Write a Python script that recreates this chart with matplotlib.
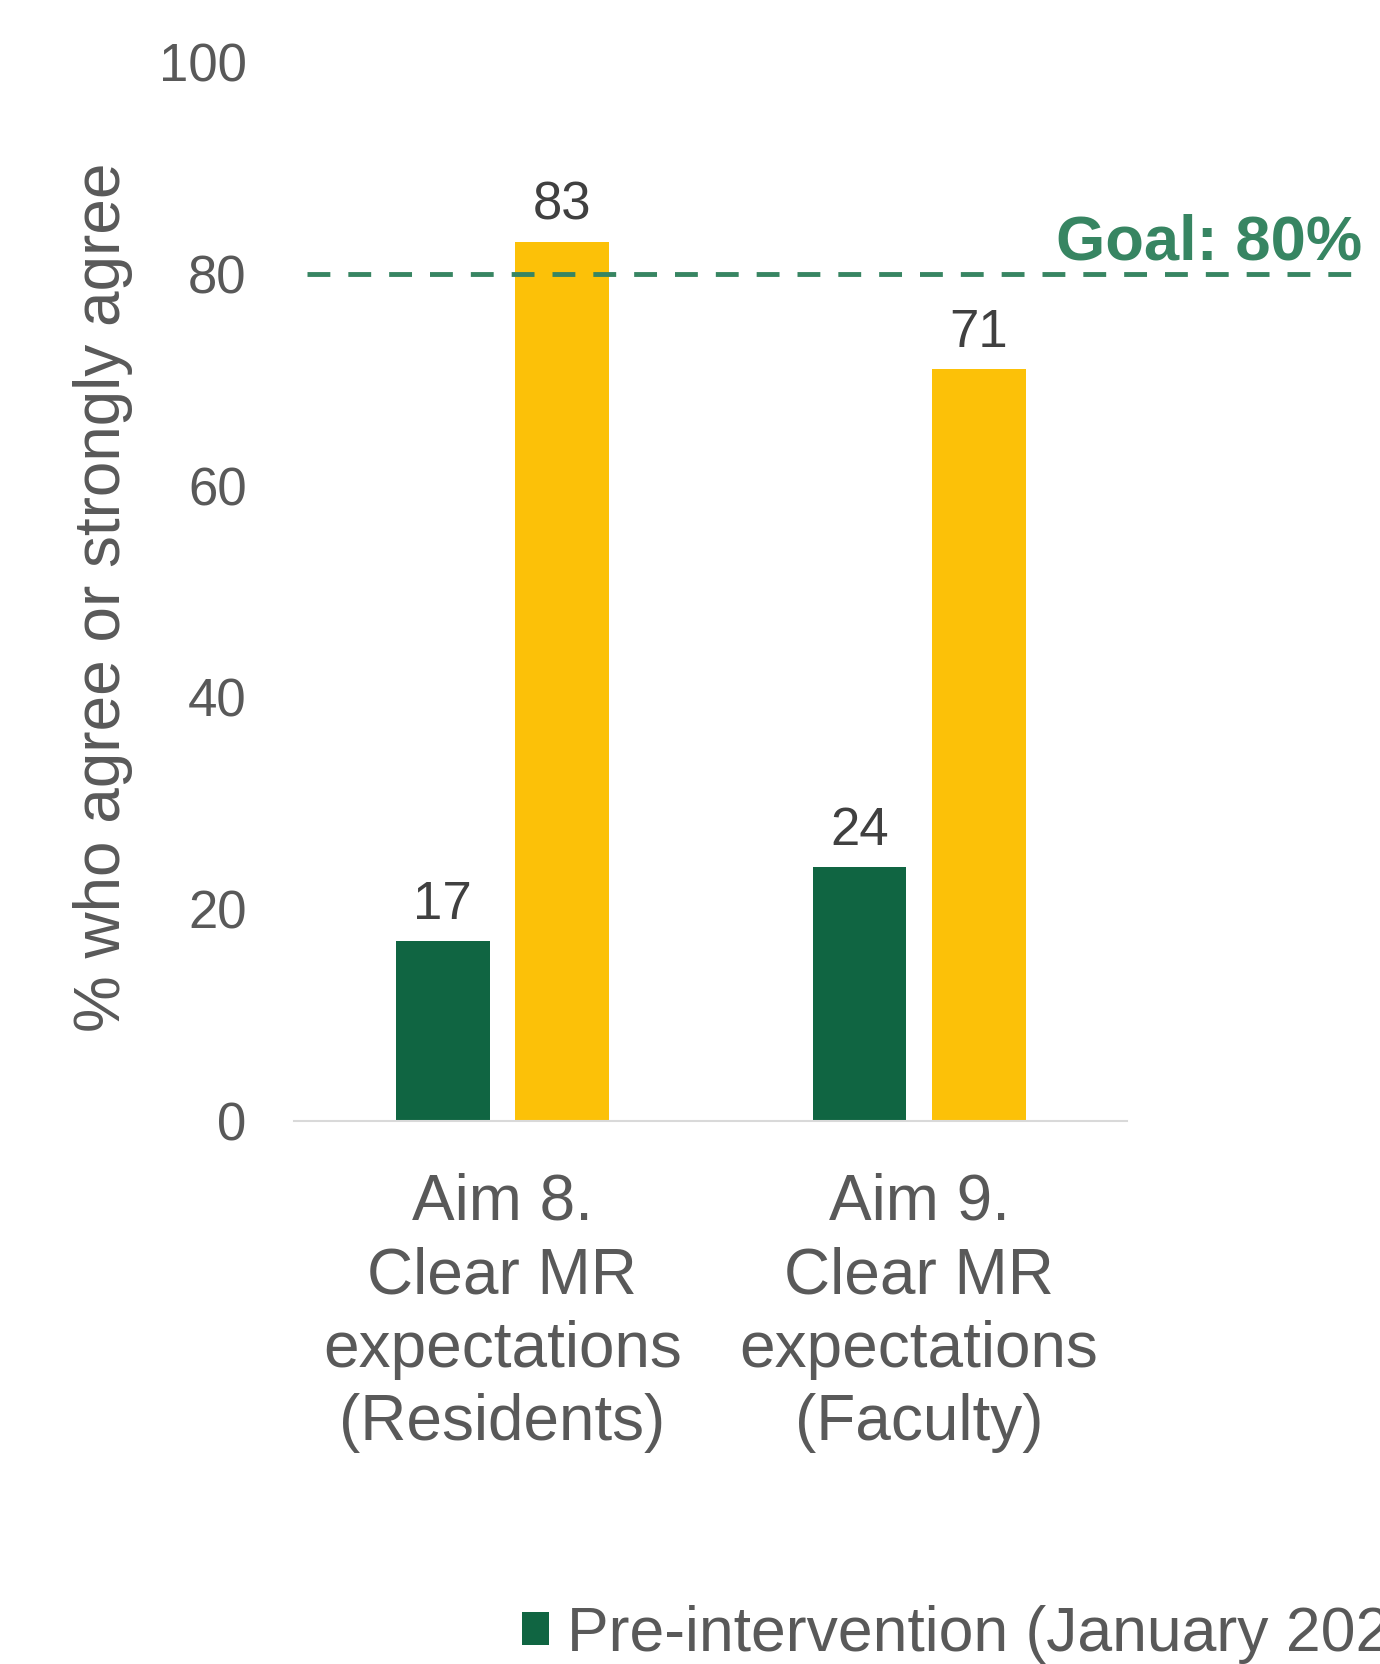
import matplotlib
matplotlib.use("Agg")
import matplotlib.pyplot as plt
import matplotlib.transforms as mtransforms
import numpy as np

# data
categories = ["Aim 8.\nClear MR\nexpectations\n(Residents)",
              "Aim 9.\nClear MR\nexpectations\n(Faculty)"]
pre_values = [17, 24]
post_values = [83, 71]
series_names = ["Pre-intervention (January 2023)", "Post-intervention (May 2023)"]
goal = 80
yticks = [0, 20, 40, 60, 80, 100]

green = "#106542"
yellow = "#FCC108"
goal_color = "#378562"
gray = "#595959"

plt.rcParams["font.family"] = ["Liberation Sans", "DejaVu Sans"]

fig = plt.figure(figsize=(13.8, 16.64), dpi=100)
ax = fig.add_axes([0.213, 0.3263, 0.604, 0.6364])

x = np.arange(len(categories))
w = 0.225
off = 0.143
b1 = ax.bar(x - off, pre_values, w, color=green, label=series_names[0])
b2 = ax.bar(x + off, post_values, w, color=yellow, label=series_names[1])
ax.bar_label(b1, padding=8, fontsize=38, color="#404040")
ax.bar_label(b2, padding=8, fontsize=38, color="#404040")

ax.set_xlim(-0.5, 1.5)
ax.set_ylim(0, 100)
ax.set_yticks(yticks)
ax.set_xticks(x)
ax.set_xticklabels(categories, fontsize=46, color=gray, linespacing=1.29)
ax.tick_params(axis="y", length=0, pad=34, labelsize=38, labelcolor=gray)
ax.tick_params(axis="x", length=0, pad=37)

for s in ["top", "right", "left"]:
    ax.spines[s].set_visible(False)
ax.spines["bottom"].set_color("#d9d9d9")
ax.spines["bottom"].set_linewidth(1.5)

ax.set_ylabel("% who agree or strongly agree", fontsize=46, color=gray)
ax.yaxis.set_label_coords(-0.193, 0.495)

# goal line and its label, running past the plot area
ax.axhline(goal, xmin=0.016, xmax=1.277, color=goal_color, lw=3.5,
           linestyle=(0, (4.7, 3.7)), clip_on=False)
trans = mtransforms.blended_transform_factory(ax.transAxes, ax.transData)
ax.text(1.282, goal + 1.4, f"Goal: {goal}%", transform=trans, ha="right",
        va="baseline", fontsize=45.5, fontweight="bold", color=goal_color,
        clip_on=False)

leg = fig.legend(handles=[b1, b2], loc="center left", bbox_to_anchor=(0.378, 0.018),
                 ncol=2, frameon=False, fontsize=45, handlelength=0.43,
                 handleheight=0.43, handletextpad=0.3, borderpad=0,
                 borderaxespad=0, columnspacing=1.0)
for t in leg.get_texts():
    t.set_color(gray)

fig.savefig("out.png", dpi=100)
